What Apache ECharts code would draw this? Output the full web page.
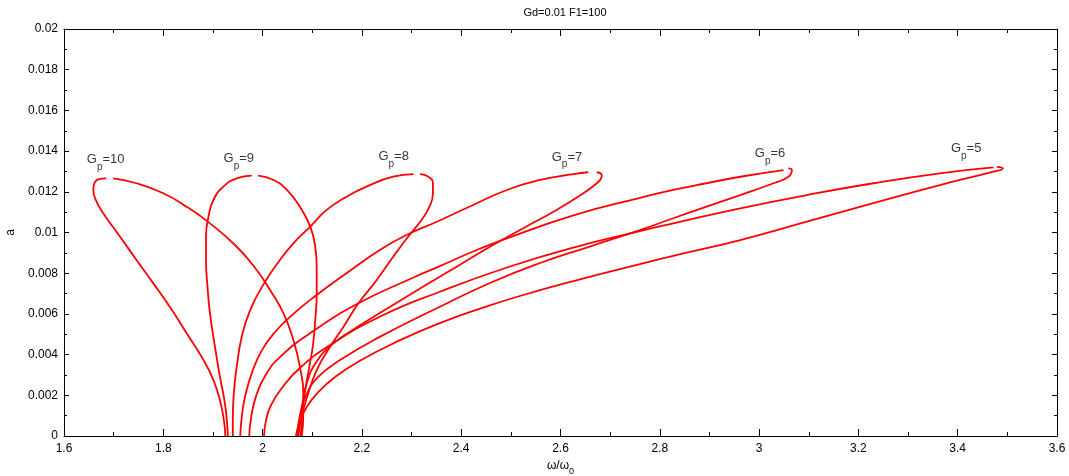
<!DOCTYPE html>
<html>
<head>
<meta charset="utf-8">
<title>Gd=0.01 F1=100</title>
<script src="https://cdn.jsdelivr.net/npm/echarts@6/dist/echarts.min.js"></script>
<style>
  html, body { margin: 0; padding: 0; background: #fff; }
  #main { width: 1069px; height: 476px; }
</style>
</head>
<body>
<div id="main"></div>
<script>
// axis ranges / ticks
var xMin = 1.6, xMax = 3.6, xStep = 0.2;
var yMin = 0, yMax = 0.02, yStep = 0.002;

// curve labels: [x, a, gp]
var gpLabels = [
    [1.684, 0.01350, '10'],
    [1.952, 0.01355, '9'],
    [2.264, 0.01366, '8'],
    [2.613, 0.01363, '7'],
    [3.022, 0.01381, '6'],
    [3.417, 0.01405, '5']
];

// each curve is split in two by a small gap near its top
var gp10Left = [[1.685,0.01266],[1.669,0.01261],[1.660,0.01233],[1.659,0.01209],[1.664,0.01160],[1.679,0.01094],[1.713,0.00979],[1.746,0.00865],[1.780,0.00750],[1.813,0.00635],[1.847,0.00505],[1.881,0.00373],[1.901,0.00275],[1.914,0.00177],[1.922,0.00079],[1.925,0]];
var gp10Right = [[1.699,0.01266],[1.746,0.01242],[1.800,0.01193],[1.847,0.01127],[1.894,0.01045],[1.948,0.00930],[1.988,0.00816],[2.015,0.00717],[2.042,0.00603],[2.062,0.00472],[2.075,0.00341],[2.082,0.00210],[2.082,0.00112],[2.079,0]];

var gp9Left = [[1.978,0.01279],[1.948,0.01266],[1.921,0.01225],[1.901,0.01160],[1.891,0.01078],[1.886,0.00979],[1.886,0.00865],[1.889,0.00734],[1.894,0.00603],[1.904,0.00439],[1.914,0.00292],[1.924,0.00161],[1.929,0.00046],[1.930,0]];
var gp9Right = [[1.991,0.01279],[2.022,0.01258],[2.049,0.01209],[2.075,0.01127],[2.096,0.01029],[2.106,0.00930],[2.109,0.00832],[2.109,0.00701],[2.106,0.00570],[2.101,0.00439],[2.094,0.00340],[2.084,0.00200],[2.076,0.00079],[2.072,0]];

var gp8Upper = [[2.304,0.01287],[2.263,0.01274],[2.216,0.01233],[2.169,0.01176],[2.129,0.01111],[2.096,0.01029],[2.062,0.00947],[2.035,0.00865],[2.003,0.00750],[1.975,0.00619],[1.958,0.00488],[1.948,0.00341],[1.942,0.00210],[1.940,0.00079],[1.940,0]];
var gp8Lower = [[2.317,0.01287],[2.334,0.01274],[2.343,0.01242],[2.343,0.01193],[2.336,0.01127],[2.320,0.01061],[2.293,0.00979],[2.263,0.00881],[2.230,0.00767],[2.193,0.00652],[2.163,0.00537],[2.136,0.00439],[2.109,0.00324],[2.092,0.00210],[2.081,0.00112],[2.077,0]];

var gp7Upper = [[2.656,0.01296],[2.626,0.01287],[2.559,0.01258],[2.492,0.01209],[2.424,0.01135],[2.351,0.01053],[2.290,0.00988],[2.236,0.00914],[2.169,0.00800],[2.109,0.00693],[2.062,0.00600],[2.025,0.00511],[1.999,0.00423],[1.979,0.00314],[1.965,0.00197],[1.958,0.00093],[1.955,0]];
var gp7Lower = [[2.673,0.01296],[2.683,0.01283],[2.681,0.01263],[2.673,0.01242],[2.646,0.01193],[2.592,0.01111],[2.525,0.01021],[2.458,0.00930],[2.391,0.00832],[2.357,0.00783],[2.304,0.00705],[2.236,0.00604],[2.169,0.00501],[2.136,0.00442],[2.108,0.00364],[2.089,0.00260],[2.079,0.00138],[2.074,0.00054],[2.072,0]];

var gp6Upper = [[3.049,0.01307],[2.962,0.01274],[2.894,0.01242],[2.827,0.01209],[2.760,0.01170],[2.626,0.01084],[2.492,0.00971],[2.431,0.00914],[2.357,0.00835],[2.304,0.00779],[2.196,0.00656],[2.102,0.00516],[2.035,0.00388],[2.005,0.00295],[1.987,0.00197],[1.977,0.00093],[1.973,0]];
var gp6Lower = [[3.059,0.01315],[3.066,0.01307],[3.059,0.01274],[3.029,0.01242],[2.962,0.01184],[2.894,0.01127],[2.827,0.01070],[2.760,0.01012],[2.659,0.00931],[2.559,0.00850],[2.458,0.00752],[2.357,0.00635],[2.236,0.00487],[2.156,0.00373],[2.112,0.00290],[2.087,0.00197],[2.075,0.00098],[2.069,0]];

var gp5Upper = [[3.472,0.01320],[3.364,0.01291],[3.230,0.01242],[3.096,0.01184],[2.962,0.01119],[2.827,0.01045],[2.760,0.01007],[2.626,0.00926],[2.492,0.00828],[2.357,0.00709],[2.236,0.00586],[2.136,0.00447],[2.075,0.00334],[2.039,0.00236],[2.017,0.00152],[2.007,0.00079],[2.003,0]];
var gp5Lower = [[3.479,0.01322],[3.491,0.01315],[3.472,0.01299],[3.364,0.01233],[3.230,0.01144],[3.096,0.01053],[2.962,0.00963],[2.827,0.00885],[2.760,0.00845],[2.639,0.00770],[2.518,0.00688],[2.438,0.00626],[2.357,0.00555],[2.277,0.00471],[2.196,0.00370],[2.146,0.00290],[2.112,0.00216],[2.089,0.00143],[2.075,0.00069],[2.067,0]];

var branches = [gp10Left, gp10Right, gp9Left, gp9Right, gp8Upper, gp8Lower,
    gp7Upper, gp7Lower, gp6Upper, gp6Lower, gp5Upper, gp5Lower];

var chart = echarts.init(document.getElementById('main'));
var font = '"Liberation Sans", Arial, Helvetica, sans-serif';

function makeXAxis(pos) {
    return {
        type: 'value',
        position: pos,
        min: xMin,
        max: xMax,
        interval: xStep,
        axisLine: { show: true, onZero: false, lineStyle: { color: '#000', width: 1 } },
        axisTick: { show: true, inside: true, length: 7, lineStyle: { color: '#000' } },
        minorTick: { show: true, splitNumber: 2, length: 4, lineStyle: { color: '#000' } },
        splitLine: { show: false },
        axisLabel: {
            show: pos === 'bottom',
            color: '#000',
            fontFamily: font,
            fontSize: 12,
            margin: 7
        }
    };
}

function makeYAxis(pos) {
    return {
        type: 'value',
        position: pos,
        min: yMin,
        max: yMax,
        interval: yStep,
        axisLine: { show: true, onZero: false, lineStyle: { color: '#000', width: 1 } },
        axisTick: { show: true, inside: true, length: 5, lineStyle: { color: '#000' } },
        minorTick: { show: true, splitNumber: 2, length: 3, lineStyle: { color: '#000' } },
        splitLine: { show: false },
        axisLabel: {
            show: pos === 'left',
            color: '#000',
            fontFamily: font,
            fontSize: 12,
            margin: 6,
            formatter: function (v) { return String(+v.toFixed(3)); }
        }
    };
}

var xBottom = makeXAxis('bottom');
xBottom.name = '{m|ω/ω}{s|0}';
xBottom.nameLocation = 'middle';
xBottom.nameGap = 21;
xBottom.nameTextStyle = {
    rich: {
        m: { fontFamily: font, fontSize: 12, color: '#000', lineHeight: 14, verticalAlign: 'top' },
        s: { fontFamily: font, fontSize: 9, color: '#000', lineHeight: 9, padding: [7, 0, 0, 0], verticalAlign: 'top' }
    }
};

var yLeft = makeYAxis('left');
yLeft.name = 'a';
yLeft.nameLocation = 'middle';
yLeft.nameRotate = 90;
yLeft.nameGap = 43;
yLeft.nameTextStyle = { fontFamily: font, fontSize: 12, color: '#000' };

var series = branches.map(function (b) {
    return {
        type: 'line',
        xAxisIndex: 0,
        yAxisIndex: 0,
        data: b,
        showSymbol: false,
        smooth: 0.5,
        silent: true,
        lineStyle: { color: '#ff0000', width: 1.8 }
    };
});

series.push({
    type: 'scatter',
    xAxisIndex: 0,
    yAxisIndex: 0,
    symbolSize: 0,
    silent: true,
    data: gpLabels.map(function (l) { return [l[0], l[1], l[2]]; }),
    label: {
        show: true,
        position: 'inside',
        formatter: function (p) { return '{g|G}{s|p}{g|=' + p.data[2] + '}'; },
        rich: {
            g: { fontFamily: font, fontSize: 13, color: '#000', lineHeight: 16, verticalAlign: 'top' },
            s: { fontFamily: font, fontSize: 10, color: '#000', lineHeight: 10, padding: [9, 0, 0, 0], verticalAlign: 'top' }
        }
    }
});

var option = {
    backgroundColor: '#fff',
    animation: false,
    title: {
        text: 'Gd=0.01 F1=100',
        left: 560,
        textAlign: 'center',
        top: 2,
        textStyle: { fontFamily: font, fontSize: 11, fontWeight: 'normal', color: '#000' }
    },
    grid: { left: 64, right: 12, top: 29, bottom: 40, containLabel: false, outerBoundsMode: 'none' },
    xAxis: [xBottom, makeXAxis('top')],
    yAxis: [yLeft, makeYAxis('right')],
    series: series
};
chart.setOption(option);
</script>
</body>
</html>
